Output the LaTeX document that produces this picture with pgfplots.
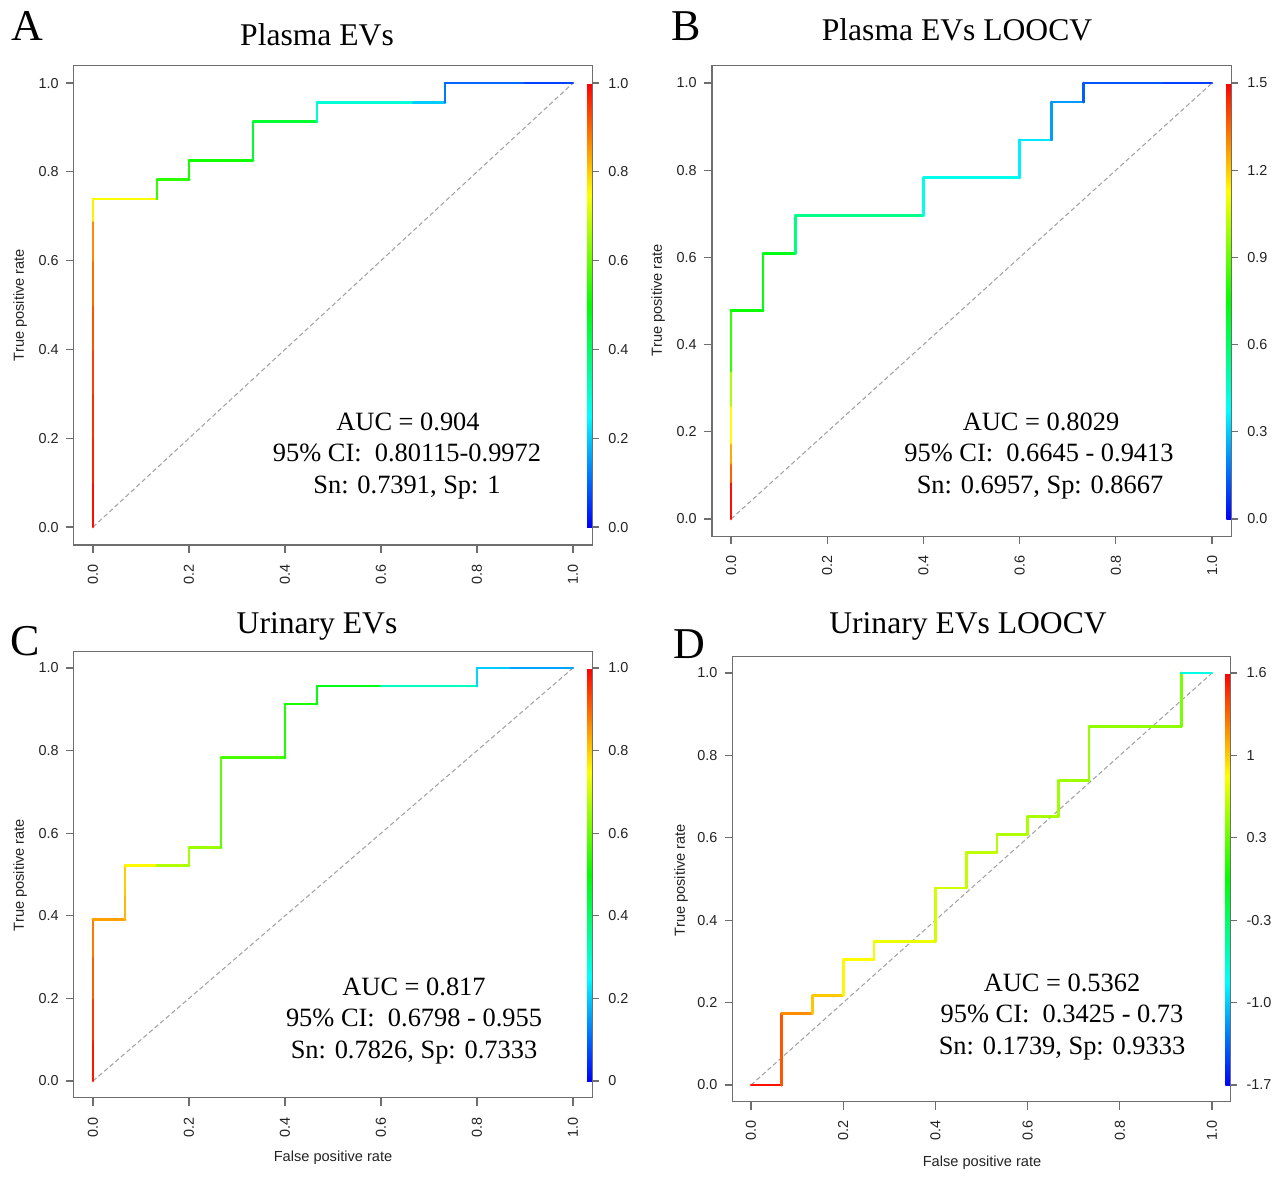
\documentclass[border=0pt]{standalone}
\usepackage{pgfplots}
\pgfplotsset{compat=1.18}
\usepackage{fontspec}
\setmainfont{Liberation Serif}
\newfontfamily\axfont{Liberation Sans}
\definecolor{axgray}{RGB}{110,110,110}
\definecolor{diaggray}{RGB}{165,165,165}
\definecolor{lblcol}{RGB}{35,35,35}
\newcommand\tickfont{\axfont\fontsize{7.2}{8}\selectfont}
\newcommand\labfont{\axfont\fontsize{7.3}{8}\selectfont}
\newcommand\annfont{\fontsize{13.2}{15}\selectfont}
\newcommand\titfont{\fontsize{15.8}{18}\selectfont}
\newcommand\letfont{\fontsize{22}{24}\selectfont}
\pgfplotsset{
  colormap={rocrainbow}{rgb=(0,0,1) rgb=(0,1,1) rgb=(0,1,0) rgb=(1,1,0) rgb=(1,0,0)},
  rocaxis/.style={
    scale only axis, anchor=south west,
    xmin=-0.04, xmax=1.04, ymin=-0.04, ymax=1.04,
    xtick={0,0.2,0.4,0.6,0.8,1}, ytick={0,0.2,0.4,0.6,0.8,1},
    xticklabels={0.0,0.2,0.4,0.6,0.8,1.0},
    yticklabels={0.0,0.2,0.4,0.6,0.8,1.0},
    tick pos=left, tick align=outside, major tick length=4pt,
    tick style={axgray, line width=0.6pt},
    axis line style={axgray, line width=0.7pt},
    ticklabel style={font=\tickfont, text=lblcol},
    xticklabel style={rotate=90, anchor=east},
    xticklabel shift=2.2pt,
    colormap name=rocrainbow,
    point meta=explicit,
    colorbar,
    colorbar shift/.style={},
  },
  % colour key inside the right edge of the box: #1 shift above the box bottom, #2 height
  rockey/.style 2 args={
    colorbar style={
      at={(parent axis.south east)}, anchor=south east,
      xshift=0pt, yshift=#1, height=#2, width=2.5pt, scale only axis,
      axis x line=none, axis y line*=right,
      yticklabel pos=right, tick align=outside,
      major tick length=3.5pt,
      tick style={axgray, line width=0.6pt},
      axis line style={axgray, line width=0.7pt},
      yticklabel style={font=\tickfont, text=lblcol},
      yticklabel shift=1pt,
    },
  },
  roccurve/.style={mesh, line width=1.35pt, line cap=round},
  diag/.style={diaggray, line width=0.55pt, dash pattern=on 2.3pt off 1.4pt},
}
\begin{document}
\begin{tikzpicture}
\path[use as bounding box] (0pt,0pt) rectangle (636.5pt,-590pt);

% ---------- A: Plasma EVs ----------
\begin{axis}[rocaxis, at={(36.9pt,-272.4pt)}, width=259.2pt, height=239.76pt,
  point meta min=0, point meta max=1,
  rockey={8.88pt}{222pt},
  colorbar style={ytick={0,0.2,0.4,0.6,0.8,1}, yticklabels={0.0,0.2,0.4,0.6,0.8,1.0}}]
\addplot[diag] coordinates {(0,0) (1,1)};
\addplot[roccurve] coordinates {
  (0,0) [1.0] (0,0.1) [0.98] (0,0.2) [0.96] (0,0.3) [0.95] (0,0.4) [0.93]
  (0,0.5) [0.91] (0,0.6) [0.88] (0,0.69) [0.85] (0,0.69) [0.77] (0,0.7391) [0.76]
  (0,0.7391) [0.75] (0.1333,0.7391) [0.74]
  (0.1333,0.7391) [0.55] (0.1333,0.7826) [0.55] (0.2,0.7826) [0.54]
  (0.2,0.7826) [0.52] (0.2,0.8261) [0.52] (0.3333,0.8261) [0.51]
  (0.3333,0.8261) [0.46] (0.3333,0.9130) [0.46] (0.4667,0.9130) [0.45]
  (0.4667,0.9130) [0.30] (0.4667,0.9565) [0.30] (0.6667,0.9565) [0.28]
  (0.6667,0.9565) [0.20] (0.7333,0.9565) [0.20]
  (0.7333,0.9565) [0.12] (0.7333,1) [0.12] (0.9,1) [0.08] (1,1) [0.05]
};
\end{axis}

% ---------- B: Plasma EVs LOOCV ----------
\begin{axis}[rocaxis, at={(355.9pt,-268.22pt)}, width=259.74pt, height=235.44pt,
  point meta min=0, point meta max=1.5,
  rockey={8.72pt}{218pt},
  colorbar style={ytick={0,0.3,0.6,0.9,1.2,1.5}, yticklabels={0.0,0.3,0.6,0.9,1.2,1.5}}]
\addplot[diag] coordinates {(0,0) (1,1)};
\addplot[roccurve] coordinates {
  (0,0) [1.48] (0,0.085) [1.48] (0,0.085) [1.36] (0,0.128) [1.36]
  (0,0.128) [1.25] (0,0.174) [1.25] (0,0.174) [1.13] (0,0.26) [1.13]
  (0,0.26) [1.0] (0,0.34) [1.0] (0,0.34) [0.84] (0,0.4783) [0.80]
  (0,0.4783) [0.77] (0.0667,0.4783) [0.76]
  (0.0667,0.4783) [0.72] (0.0667,0.6087) [0.72] (0.1333,0.6087) [0.71]
  (0.1333,0.6087) [0.56] (0.1333,0.6957) [0.56] (0.4,0.6957) [0.54]
  (0.4,0.6957) [0.41] (0.4,0.7826) [0.41] (0.6,0.7826) [0.40]
  (0.6,0.7826) [0.35] (0.6,0.8696) [0.35] (0.6667,0.8696) [0.34]
  (0.6667,0.8696) [0.23] (0.6667,0.9565) [0.23] (0.7333,0.9565) [0.22]
  (0.7333,0.9565) [0.14] (0.7333,1) [0.14] (0.9,1) [0.11] (1,1) [0.08]
};
\end{axis}

% ---------- C: Urinary EVs ----------
\begin{axis}[rocaxis, at={(36.9pt,-548.76pt)}, width=259.2pt, height=223.02pt,
  point meta min=0, point meta max=1,
  rockey={8.26pt}{206.5pt},
  colorbar style={ytick={0,0.2,0.4,0.6,0.8,1}, yticklabels={0,0.2,0.4,0.6,0.8,1.0}}]
\addplot[diag] coordinates {(0,0) (1,1)};
\addplot[roccurve] coordinates {
  (0,0) [0.99] (0,0.1) [0.97] (0,0.2) [0.93] (0,0.3) [0.89] (0,0.3913) [0.87]
  (0,0.3913) [0.85] (0.0667,0.3913) [0.84]
  (0.0667,0.3913) [0.83] (0.0667,0.45) [0.81] (0.0667,0.5217) [0.79]
  (0.0667,0.5217) [0.76] (0.1333,0.5217) [0.75]
  (0.1333,0.5217) [0.68] (0.2,0.5217) [0.67]
  (0.2,0.5217) [0.66] (0.2,0.5652) [0.66] (0.2667,0.5652) [0.65]
  (0.2667,0.5652) [0.60] (0.2667,0.7826) [0.58] (0.4,0.7826) [0.56]
  (0.4,0.7826) [0.53] (0.4,0.9130) [0.53] (0.4667,0.9130) [0.52]
  (0.4667,0.9130) [0.49] (0.4667,0.9565) [0.49] (0.6,0.9565) [0.47]
  (0.6,0.9565) [0.33] (0.8,0.9565) [0.30]
  (0.8,0.9565) [0.21] (0.8,1) [0.21] (0.87,1) [0.19] (1,1) [0.13]
};
\end{axis}

% ---------- D: Urinary EVs LOOCV ----------
\begin{axis}[rocaxis, at={(366.28pt,-550.74pt)}, width=248.94pt, height=222.48pt,
  point meta min=-1.7, point meta max=1.6,
  rockey={8.24pt}{206pt},
  colorbar style={ytick={-1.7,-1.04,-0.38,0.28,0.94,1.6}, yticklabels={-1.7,-1.0,-0.3,0.3,1,1.6}}]
\addplot[diag] coordinates {(0,0) (1,1)};
\addplot[roccurve] coordinates {
  (0,0) [1.55] (0.0667,0) [1.55]
  (0.0667,0) [1.45] (0.0667,0.1739) [1.20] (0.1333,0.1739) [1.10]
  (0.1333,0.1739) [0.96] (0.1333,0.2174) [0.96] (0.2,0.2174) [0.94]
  (0.2,0.2174) [0.80] (0.2,0.3043) [0.80] (0.2667,0.3043) [0.78]
  (0.2667,0.3043) [0.72] (0.2667,0.3478) [0.72] (0.4,0.3478) [0.71]
  (0.4,0.3478) [0.63] (0.4,0.4783) [0.63] (0.4667,0.4783) [0.62]
  (0.4667,0.4783) [0.57] (0.4667,0.5652) [0.57] (0.5333,0.5652) [0.56]
  (0.5333,0.5652) [0.53] (0.5333,0.6087) [0.53] (0.6,0.6087) [0.52]
  (0.6,0.6087) [0.50] (0.6,0.6522) [0.50] (0.6667,0.6522) [0.49]
  (0.6667,0.6522) [0.46] (0.6667,0.7391) [0.46] (0.7333,0.7391) [0.45]
  (0.7333,0.7391) [0.42] (0.7333,0.8696) [0.42] (0.9333,0.8696) [0.41]
  (0.9333,0.8696) [0.38] (0.9333,1) [0.30]
  (0.9333,1) [-0.78] (1,1) [-0.80]
};
\end{axis}

% ---------- panel letters, titles, statistics, axis titles ----------
\begin{scope}[x=0.5pt, y=-0.5pt]
  \node[anchor=base, font=\letfont] at (27,40) {A};
  \node[anchor=base, font=\letfont] at (686,40) {B};
  \node[anchor=base, font=\letfont] at (25,655) {C};
  \node[anchor=base, font=\letfont] at (689,658) {D};

  \node[anchor=base, font=\titfont] at (317,45) {Plasma EVs};
  \node[anchor=base, font=\titfont] at (957,40) {Plasma EVs LOOCV};
  \node[anchor=base, font=\titfont] at (317,633) {Urinary EVs};
  \node[anchor=base, font=\titfont] at (968,633) {Urinary EVs LOOCV};

  \node[anchor=base, font=\annfont] at (408,430) {AUC = 0.904};
  \node[anchor=base, font=\annfont] at (407,461) {95\% CI:~ 0.80115-0.9972};
  \node[anchor=base, font=\annfont] at (407,493) {Sn: 0.7391, Sp: 1};

  \node[anchor=base, font=\annfont] at (1041,430) {AUC = 0.8029};
  \node[anchor=base, font=\annfont] at (1039,461) {95\% CI:~ 0.6645 - 0.9413};
  \node[anchor=base, font=\annfont] at (1040,493) {Sn: 0.6957, Sp: 0.8667};

  \node[anchor=base, font=\annfont] at (414,995) {AUC = 0.817};
  \node[anchor=base, font=\annfont] at (414,1026) {95\% CI:~ 0.6798 - 0.955};
  \node[anchor=base, font=\annfont] at (414,1058) {Sn: 0.7826, Sp: 0.7333};

  \node[anchor=base, font=\annfont] at (1062,991) {AUC = 0.5362};
  \node[anchor=base, font=\annfont] at (1062,1022) {95\% CI:~ 0.3425 - 0.73};
  \node[anchor=base, font=\annfont] at (1062,1054) {Sn: 0.1739, Sp: 0.9333};

  \node[rotate=90, font=\labfont, text=lblcol] at (20,305) {True positive rate};
  \node[rotate=90, font=\labfont, text=lblcol] at (658,300) {True positive rate};
  \node[rotate=90, font=\labfont, text=lblcol] at (20,875) {True positive rate};
  \node[rotate=90, font=\labfont, text=lblcol] at (681,880) {True positive rate};
  \node[font=\labfont, text=lblcol] at (333,1158) {False positive rate};
  \node[font=\labfont, text=lblcol] at (982,1163) {False positive rate};
\end{scope}
\end{tikzpicture}
\end{document}
